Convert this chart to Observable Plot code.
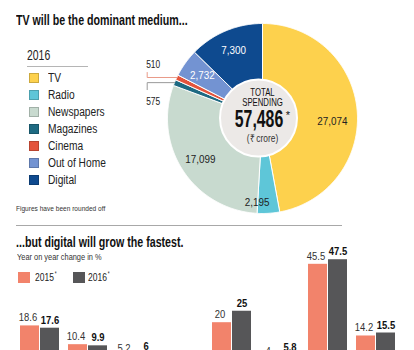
<!DOCTYPE html>
<html>
<head>
<meta charset="utf-8">
<script src="https://cdn.jsdelivr.net/npm/d3@7"></script>
<script src="https://cdn.jsdelivr.net/npm/@observablehq/plot@0.6"></script>
<style>
  html, body { margin: 0; padding: 0; background: #fff; }
  #wrap { position: relative; width: 414px; height: 350px; overflow: hidden;
    font-family: 'Liberation Sans', Arial, sans-serif; color: #1a1a1a; }
  .abs { position: absolute; white-space: nowrap; line-height: 1; transform-origin: 0 0; }
  .sq { position: absolute; box-sizing: border-box; }
  sup { font-size: 0.55em; vertical-align: 0; position: relative; top: -0.75em; margin-left: 1px; }
  svg { position: absolute; left: 0; }
</style>
</head>
<body>
<div id="wrap"></div>
<script>
// ---------- data ----------
const media = ["TV", "Radio", "Newspapers", "Magazines", "Cinema", "Out of Home", "Digital"];
const spend2016 = [27074, 2195, 17099, 575, 510, 2732, 7300];
const totalSpending = 57486;
const pieYear = "2016";
const mediaColors = ["#fdd14d", "#5ec6d8", "#c8dacf", "#1e6a82", "#e4543c", "#7393d2", "#0e4a8f"];

const growthCats = ["TV", "Radio", "Newspapers", "Magazines", "Cinema", "Out of Home", "Digital", "Total"];
const growth2015 = [18.6, 10.4, 5.2, 1.5, 20, 4, 45.5, 14.2];
const growth2016 = [17.6, 9.9, 6, 2, 25, 5.8, 47.5, 15.5];
const years = ["2015", "2016"];
const yearColors = ["#f2836b", "#565658"];

const title1 = "TV will be the dominant medium...";
const title2 = "...but digital will grow the fastest.";
const subtitle2 = "Year on year change in %";
const note = "Figures have been rounded off";

const FONT = "'Liberation Sans', Arial, sans-serif";
const wrap = document.getElementById("wrap");

function addText(txt, left, baseline, size, k, opts = {}) {
  const d = document.createElement("div");
  d.className = "abs";
  d.innerHTML = txt;
  d.style.left = left + "px";
  d.style.top = (baseline - 0.8465 * size) + "px";
  d.style.fontSize = size + "px";
  d.style.transform = `scaleX(${k})`;
  if (opts.weight) d.style.fontWeight = opts.weight;
  if (opts.color) d.style.color = opts.color;
  wrap.appendChild(d);
  return d;
}
function addBox(left, top, w, h, fill, stroke) {
  const d = document.createElement("div");
  d.className = "sq";
  Object.assign(d.style, {left: left + "px", top: top + "px", width: w + "px", height: h + "px",
    background: fill, border: stroke ? `1px solid ${stroke}` : "none"});
  wrap.appendChild(d);
}
// horizontally condense Plot text marks (the reference uses a condensed typeface)
function condense(svg, ks) {
  const groups = svg.querySelectorAll("g[aria-label='text']");
  groups.forEach((g, gi) => {
    const k = typeof ks === "function" ? ks(g, gi) : ks;
    g.querySelectorAll("text").forEach(t => {
      const tr = t.getAttribute("transform") || "";
      const x = +(t.getAttribute("x") || 0);
      if (x) t.setAttribute("x", x / k);
      t.setAttribute("transform", tr + ` scale(${k},1)`);
    });
  });
}

// ---------- pie ----------
const total = d3.sum(spend2016);
let acc = 0;
const slices = media.map((name, i) => {
  const a0 = acc / total * 2 * Math.PI;
  acc += spend2016[i];
  const a1 = acc / total * 2 * Math.PI;
  return {name, value: spend2016[i], a0, a1, mid: (a0 + a1) / 2};
});
const polyPts = slices.flatMap(s => {
  const pts = [{name: s.name, x: 0, y: 0}];
  const n = Math.max(2, Math.ceil((s.a1 - s.a0) / (Math.PI / 360)));
  for (let k = 0; k <= n; k++) {
    const t = s.a0 + (s.a1 - s.a0) * k / n;
    pts.push({name: s.name, x: Math.sin(t), y: Math.cos(t)});
  }
  pts.push({name: s.name, x: 0, y: 0});
  return pts;
});
const R = 95, CX = 262, CY = 118;
const px = v => v / R;              // pixel length -> pie units
const fmt = d3.format(",");
const lab = (s, r) => ({x: r * Math.sin(s.mid), y: r * Math.cos(s.mid), text: fmt(s.value), name: s.name});
const inside = slices.filter(s => s.value > 1000);
const darkLab = ["TV", "Radio", "Newspapers"];
const plainInside = inside.filter(s => !["TV", "Radio"].includes(s.name)).map(s => lab(s, 0.78));
const tvLab = inside.filter(s => s.name === "TV").map(s => lab(s, 0.78));
const radioLab = inside.filter(s => s.name === "Radio").map(s => lab(s, 0.78));
const outside = slices.filter(s => s.value <= 1000);
const xl = px(146.7 - CX);
const leaders = outside.flatMap(s => {
  const ex = Math.sin(s.mid), ey = Math.cos(s.mid);
  const up = s.name === "Cinema";
  return [
    {name: s.name, x: ex, y: ey},
    {name: s.name, x: xl, y: ey},
    {name: s.name, x: xl, y: ey + (up ? px(5) : -px(7))}
  ];
});
const outLabs = outside.map(s => {
  const ey = Math.cos(s.mid);
  const up = s.name === "Cinema";
  return {name: s.name, text: fmt(s.value), x: xl, y: ey + (up ? px(9.5) : -px(22))};
});
const leaderColor = d3.scaleOrdinal(["Magazines", "Cinema"], ["#9a9a9a", "#e99a88"]);

const pie = Plot.plot({
  width: 414, height: 230,
  margin: 0,
  style: {fontFamily: FONT, background: "transparent", overflow: "visible"},
  x: {domain: [-1, 1], range: [CX - R, CX + R], axis: null},
  y: {domain: [-1, 1], range: [CY + R, CY - R], axis: null},
  color: {domain: media, range: mediaColors},
  marks: [
    Plot.line(polyPts, {x: "x", y: "y", z: "name", fill: "name", stroke: "white", strokeWidth: 1, strokeLinejoin: "round"}),
    Plot.dot([0], {x: () => px(-4), y: () => px(0.5), r: 38.5, fill: "#ece9e7", stroke: "white", strokeWidth: 2}),
    Plot.text(plainInside, {x: "x", y: "y", text: "text", fontSize: 11.5,
      fill: d => darkLab.includes(d.name) ? "#222" : "#ffffff"}),
    Plot.text(tvLab, {x: "x", y: "y", text: "text", fontSize: 11.5, fill: "#222", dx: -4, dy: 10}),
    Plot.text(radioLab, {x: "x", y: "y", text: "text", fontSize: 11.5, fill: "#222", dx: -10, dy: 10}),
    Plot.line(leaders, {x: "x", y: "y", z: "name", stroke: d => leaderColor(d.name), strokeWidth: 1}),
    Plot.text(outLabs, {x: "x", y: "y", text: "text", fontSize: 10.5, fill: "#222", textAnchor: "start", lineAnchor: "bottom", dx: -1}),
    Plot.text(["TOTAL", "SPENDING"], {x: () => 0, y: (d, i) => px(CY - [95.5, 105.7][i]), text: d => d,
      fontSize: 10.8, fill: "#111", lineAnchor: "bottom"}),
    Plot.text([totalSpending], {x: () => px(-3.5), y: () => px(CY - 126.7), text: d => fmt(d),
      fontSize: 23, fontWeight: "bold", fill: "#111", lineAnchor: "bottom"}),
    Plot.text(["*"], {x: () => px(287.5 - CX), y: () => px(CY - 118.5), text: d => d, fontSize: 11, fill: "#111", lineAnchor: "bottom"}),
    Plot.text(["(₹ crore)"], {x: () => 0, y: () => px(CY - 141), text: d => d, fontSize: 10.5, fill: "#333", lineAnchor: "bottom"})
  ]
});
condense(pie, (g, i) => [0.86, 0.86, 0.86, 0.8, 0.72, 0.69, 1, 0.8][i] ?? 0.85);
pie.style.top = "0px";
wrap.appendChild(pie);

// ---------- top HTML text & legend ----------
addText(title1, 16, 25, 15, 0.71, {weight: "bold", color: "#111"});
addText(pieYear, 27, 60.7, 14.5, 0.72, {color: "#222"});
const hr1 = document.createElement("div");
Object.assign(hr1.style, {position: "absolute", left: "27px", top: "66px", width: "61px", height: "1px", background: "#b5b5b5"});
wrap.appendChild(hr1);
media.forEach((m, i) => {
  const cy = 77.5 + i * 17;
  addBox(29, cy - 5, 10, 10, mediaColors[i], d3.color(mediaColors[i]).darker(0.6).formatHex());
  addText(m, 47.5, cy + 4.2, 12, 0.85, {color: "#222"});
});
addText(note, 16, 212, 8, 0.82, {color: "#333"});
const hr2 = document.createElement("div");
Object.assign(hr2.style, {position: "absolute", left: "16px", top: "225px", width: "326px", height: "1px", background: "#a8a8a8"});
wrap.appendChild(hr2);

// ---------- bars ----------
const rows = growthCats.flatMap((c, i) => [
  {cat: c, year: years[0], value: growth2015[i]},
  {cat: c, year: years[1], value: growth2016[i]}
]);
const bars = Plot.plot({
  width: 414, height: 160,
  marginLeft: 13, marginRight: 11, marginTop: 13.5, marginBottom: 32,
  style: {fontFamily: FONT, background: "transparent", overflow: "visible"},
  fx: {domain: growthCats, paddingInner: 0.16, paddingOuter: 0.08, label: null, axis: null},
  x: {domain: years, axis: null, paddingInner: 0.03, paddingOuter: 0},
  y: {domain: [0, 50], axis: null},
  color: {domain: years, range: yearColors},
  marks: [
    Plot.barY(rows, {fx: "cat", x: "year", y: "value", fill: "year"}),
    Plot.text(rows.filter(d => d.year === years[0]), {fx: "cat", x: "year", y: "value", text: d => String(d.value),
      fontSize: 10.5, fill: "#333", fontWeight: 300, lineAnchor: "bottom", dy: -4.5, dx: -2}),
    Plot.text(rows.filter(d => d.year === years[1]), {fx: "cat", x: "year", y: "value", text: d => String(d.value),
      fontSize: 10.5, fill: "#111", fontWeight: "bold", lineAnchor: "bottom", dy: -4.5})
  ]
});
condense(bars, 0.9);
bars.style.top = "240px";
wrap.appendChild(bars);

addText(title2, 16, 246.7, 15, 0.71, {weight: "bold", color: "#111"});
addText(subtitle2, 17, 260, 9.5, 0.78, {color: "#333"});
addBox(18, 272, 12, 11, yearColors[0]);
addText(years[0] + "<sup>*</sup>", 35, 281.7, 11.5, 0.74, {color: "#222"});
addBox(73, 272, 12, 11, yearColors[1]);
addText(years[1] + "<sup>*</sup>", 88, 281.7, 11.5, 0.74, {color: "#222"});
</script>
</body>
</html>
